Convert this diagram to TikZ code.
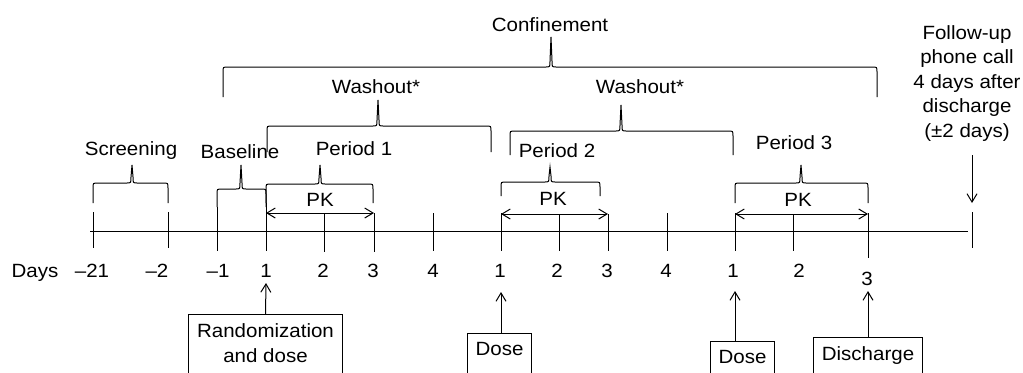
\documentclass[tikz,border=0pt]{standalone}
\usepackage{fontspec}
\setmainfont{Liberation Sans}[FakeStretch=1.07]
\usetikzlibrary{arrows.meta}
\tikzset{
  lbl/.style={anchor=base, inner sep=0pt, font=\fontsize{11.5}{14.7}\selectfont},
  evbox/.style={draw, anchor=north, align=center, inner xsep=5pt, inner ysep=5.5pt,
    text depth=30pt, font=\fontsize{11.5}{14.7}\selectfont},
  tip/.style={-{Straight Barb[length=5pt,width=6pt]}},
  pkarrow/.style={{Straight Barb[length=5pt,width=6pt]}-{Straight Barb[length=5pt,width=6pt]}},
}
% left x, right x, bar y, leg end y, tip x, tip y
\newcommand{\timebrace}[6]{%
  \draw (#1,#4) -- (#1,#3+5) .. controls (#1,#3) .. (#1+5,#3) -- (#5-5,#3)
    .. controls (#5-1,#3) .. (#5-1,#3-6) -- (#5,#6) -- (#5+1,#3-6)
    .. controls (#5+1,#3) .. (#5+5,#3) -- (#2-5,#3) .. controls (#2,#3) .. (#2,#3+5)
    -- (#2,#4);}
\begin{document}
\begin{tikzpicture}[x=0.6pt,y=-0.6pt,line width=0.6pt]
\useasboundingbox (0,0) rectangle (1023,372);
\clip (0,0) rectangle (1023,372);

% time axis and ticks
\draw (90,231) -- (968,231);
\foreach \x/\a/\b in {93/212/248,168/212/248,217/207/251,266/203/251,324/214/252,
    374/213/252,433/213/251,501/213/251,559/214/251,608/214/251,667/213/251,
    735/213/251,793/214/251,868/213/258,972/212/248}
  \draw (\x,\a) -- (\x,\b);

% day numbers
\node[lbl] (days) at (35,277) {Days};
\foreach \x/\t/\n in {92/\textendash21/dm21,157/\textendash2/dm2,218/\textendash1/dm1,
    266/1/pa1,323/2/pa2,373/3/pa3,433/4/pa4,500/1/pb1,557/2/pb2,607/3/pb3,666/4/pb4,
    733/1/pc1,799/2/pc2}
  \node[lbl] (\n) at (\x,277) {\t};
\node[lbl] (pc3) at (867,285) {3};

% braces
\timebrace{223}{877}{67}{97}{551}{37}
\timebrace{267}{491}{126}{152}{378}{100}
\timebrace{510}{733}{131}{155}{621}{105}
\timebrace{93}{168}{183}{203}{132}{165}
\timebrace{217}{266}{189}{207}{241}{165}
\timebrace{266}{373}{184}{203}{320}{165}
\timebrace{501}{600}{182}{196}{550}{167}
\timebrace{735}{868}{183}{203}{801}{165}

\node[lbl] (confine) at (550,31) {Confinement};
\node[lbl] (washa) at (376,93) {Washout*};
\node[lbl] (washb) at (640,93) {Washout*};
\node[lbl] (screen) at (131,155) {Screening};
\node[lbl] (base) at (240,158) {Baseline};
\node[lbl] (pera) at (354,155) {Period 1};
\node[lbl] (perb) at (557,157) {Period 2};
\node[lbl] (perc) at (794,149) {Period 3};

% PK sampling
\node[lbl] (pka) at (320,206) {PK};
\node[lbl] (pkb) at (553,205) {PK};
\node[lbl] (pkc) at (798,206) {PK};
\draw[pkarrow] (266,213) -- (374,213);
\draw[pkarrow] (501,214) -- (608,214);
\draw[pkarrow] (735,214) -- (868,214);

% follow-up
\node[lbl, align=center, anchor=north] (follow) at (967,25)
  {Follow-up\\phone call\\4 days after\\discharge\\(±2 days)};
\coordinate (fua) at (972,155);
\coordinate (fub) at (972,203);
\draw[tip] (fua) -- (fub);

% events
\node[evbox] (rand) at (265.5,314) {Randomization\\and dose};
\node[evbox] (dosea) at (499.5,333) {Dose};
\node[evbox] (doseb) at (742.5,341) {Dose};
\node[evbox] (disch) at (868,337) {Discharge};
\coordinate (ra) at (266,283);
\coordinate (da) at (501,292);
\coordinate (db) at (735,291);
\coordinate (dc) at (868,291);
\draw[tip] (rand.north) -- (ra);
\draw[tip] (dosea.north -| da) -- (da);
\draw[tip] (doseb.north -| db) -- (db);
\draw[tip] (disch.north) -- (dc);
\end{tikzpicture}
\end{document}
